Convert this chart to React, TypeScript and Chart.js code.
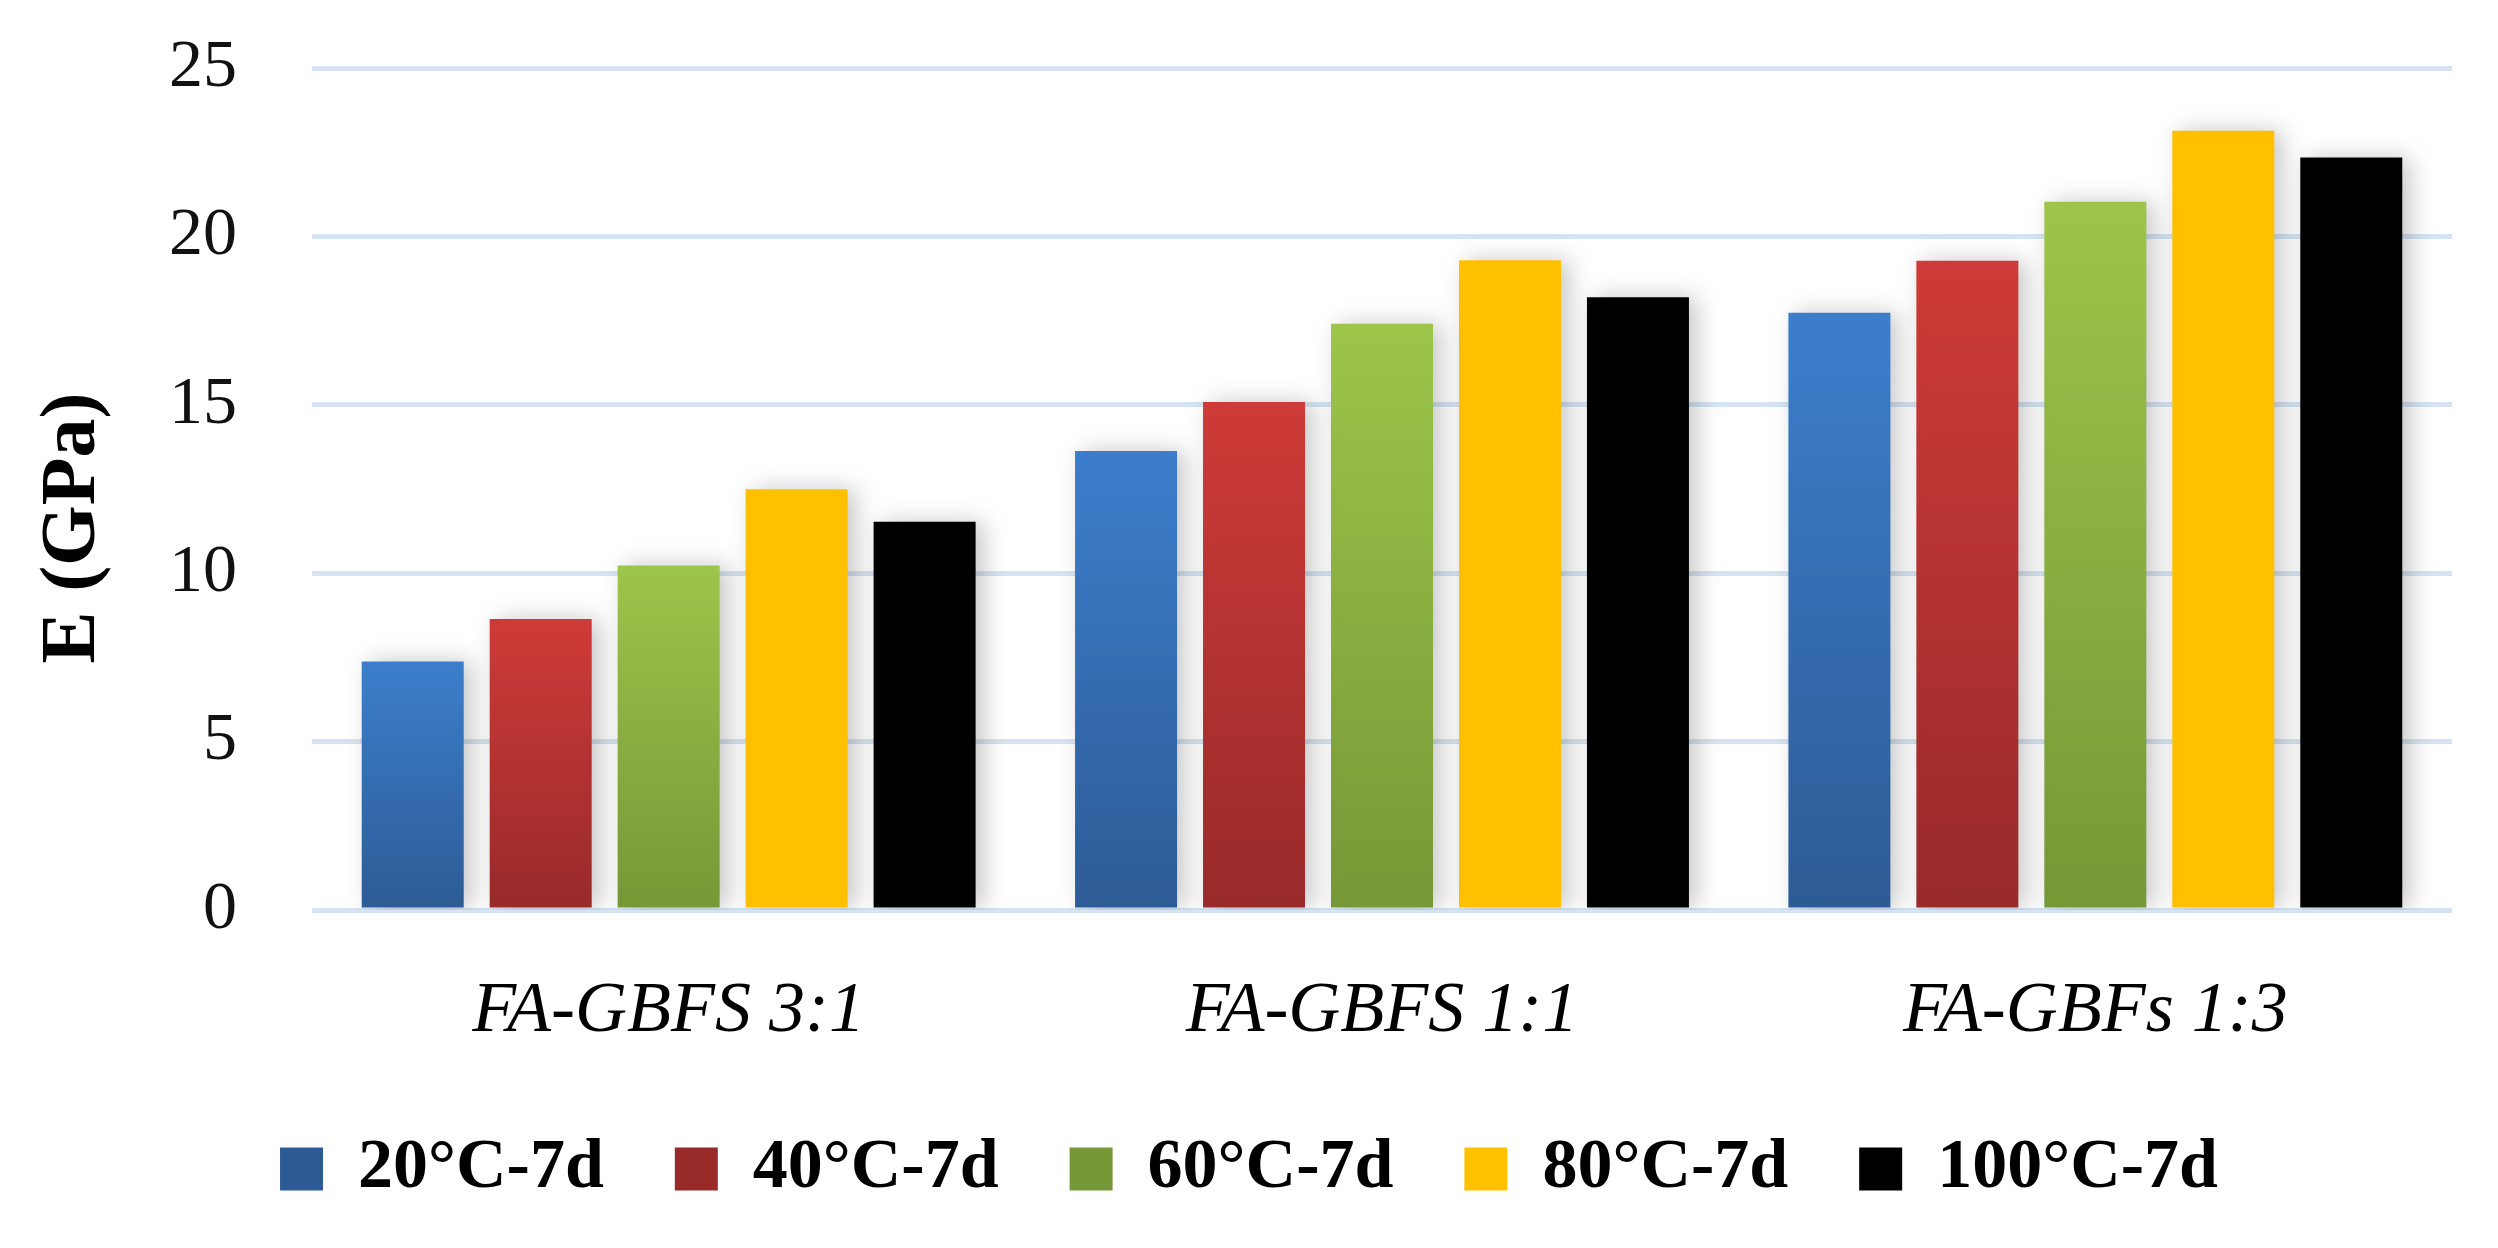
import React, { useEffect, useRef } from "react";
import { Chart, registerables } from "chart.js";

Chart.register(...registerables);

const categories = ["FA-GBFS 3:1", "FA-GBFS 1:1", "FA-GBFs 1:3"];
const seriesLabels = ["20°C-7d", "40°C-7d", "60°C-7d", "80°C-7d", "100°C-7d"];
const s20 = [7.38, 13.63, 17.73];
const s40 = [8.64, 15.08, 19.28];
const s60 = [10.23, 17.41, 21.03];
const s80 = [12.49, 19.29, 23.14];
const s100 = [11.53, 18.19, 22.34];
const seriesValues = [s20, s40, s60, s80, s100];
// [top colour, bottom colour]
const seriesColors: [string, string][] = [
  ["#3C7ECC", "#2D5B95"],
  ["#CE3B38", "#982A2A"],
  ["#9DC54A", "#769837"],
  ["#FFC000", "#FFC000"],
  ["#000000", "#000000"],
];
const yMin = 0;
const yMax = 25;
const yStep = 5;

const FONT = "'Liberation Serif', 'Times New Roman', serif";

export default function App() {
  const ref = useRef<HTMLCanvasElement | null>(null);

  useEffect(() => {
    const canvas = ref.current;
    if (!canvas) return;

    const shadowPlugin = {
      id: "barShadow",
      beforeDatasetsDraw(chart: any) {
        const c = chart.ctx;
        c.save();
        c.shadowColor = "rgba(0,0,0,0.22)";
        c.shadowBlur = 22;
        c.shadowOffsetX = 8;
        c.shadowOffsetY = 0;
      },
      afterDatasetsDraw(chart: any) {
        chart.ctx.restore();
      },
    };

    const legendGradientPlugin = {
      id: "legendGradient",
      afterLayout(chart: any) {
        const lg = chart.legend;
        if (!lg || !lg.legendItems) return;
        const pad = lg.options.labels.padding;
        const fontSize = lg.options.labels.font.size;
        const bh = lg.options.labels.boxHeight;
        const top = lg.top + pad + (fontSize - bh) / 2;
        lg.legendItems.forEach((item: any, i: number) => {
          const g = chart.ctx.createLinearGradient(0, top, 0, top + bh);
          g.addColorStop(0, seriesColors[i][0]);
          g.addColorStop(1, seriesColors[i][1]);
          item.fillStyle = g;
          item.strokeStyle = "rgba(0,0,0,0)";
          item.lineWidth = 0;
        });
      },
    };

    const chart = new Chart(canvas, {
      type: "bar",
      data: {
        labels: categories,
        datasets: seriesLabels.map((label, si) => ({
          label,
          data: seriesValues[si],
          borderWidth: 0,
          categoryPercentage: 0.897,
          barPercentage: 0.797,
          backgroundColor: (ctx: any) => {
            const [c1, c2] = seriesColors[si];
            if (ctx.type !== "data" || !ctx.chart.chartArea) return c1;
            const ys = ctx.chart.scales.y;
            const v = ctx.raw as number;
            const t = ys.getPixelForValue(v);
            const b = ys.getPixelForValue(0);
            const g = ctx.chart.ctx.createLinearGradient(0, t, 0, b);
            g.addColorStop(0, c1);
            g.addColorStop(1, c2);
            return g;
          },
        })),
      },
      options: {
        animation: false,
        responsive: false,
        devicePixelRatio: 1,
        layout: { padding: { top: 68, right: 46, left: 46, bottom: 34 } },
        plugins: {
          tooltip: { enabled: false },
          legend: {
            position: "bottom",
            labels: {
              boxWidth: 43,
              boxHeight: 43,
              padding: 71,
              color: "#000",
              font: { family: FONT, size: 70, weight: "bold" },
            },
          },
        },
        scales: {
          x: {
            grid: { display: false, drawTicks: false },
            border: { display: false },
            ticks: {
              padding: 59,
              color: "#000",
              font: { family: FONT, size: 72, style: "italic" },
            },
            afterFit: (scale: any) => {
              scale.height = 153;
            },
          },
          y: {
            min: yMin,
            max: yMax,
            grid: { color: "#D5E3F2", lineWidth: 5, drawTicks: false },
            border: { display: false },
            ticks: {
              stepSize: yStep,
              padding: 75,
              color: "#111",
              font: { family: FONT, size: 68 },
            },
            title: {
              display: true,
              text: "E (GPa)    ",
              color: "#000",
              padding: { top: 8, bottom: 0 },
              font: { family: FONT, size: 78, weight: "bold", lineHeight: 0.5 },
            },
            afterFit: (scale: any) => {
              scale.width = 266;
              scale.paddingTop = 0;
              scale.paddingBottom = 0;
            },
          },
        },
      },
      plugins: [shadowPlugin, legendGradientPlugin],
    } as any);

    return () => chart.destroy();
  }, []);

  return (
    <div style={{ position: "fixed", left: 0, top: 0, width: 2498, height: 1248, background: "#fff" }}>
      <canvas ref={ref} width={2498} height={1248} style={{ width: 2498, height: 1248, display: "block" }} />
    </div>
  );
}
